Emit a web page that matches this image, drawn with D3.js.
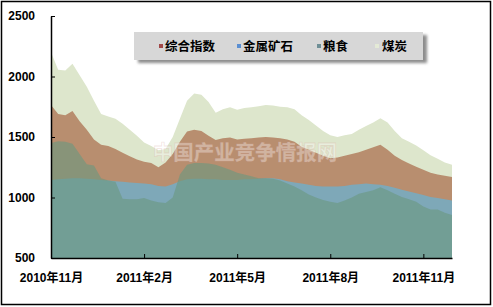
<!DOCTYPE html>
<html>
<head>
<meta charset="utf-8">
<script src="https://cdn.jsdelivr.net/npm/d3@7"></script>
<style>
  body { margin: 0; background: #fff; }
  .axis text { font-family: "Liberation Sans", "Noto Sans CJK SC", sans-serif; font-weight: bold; font-size: 12px; fill: #000; }
  .axis path, .axis line { stroke: #000; }
</style>
</head>
<body>
<div id="chart"></div>
<script>
// weekly index values, 2010-11 .. 2011-12 (57 weeks)
let seriesNames = ['综合指数', '金属矿石', '粮食', '煤炭'];
let tickIndex = [0, 13, 26, 39, 52];
let tickLabels = ['2010年11月', '2011年2月', '2011年5月', '2011年8月', '2011年11月'];
let yTicks = [500, 1000, 1500, 2000, 2500];

let coal = [2200, 2055, 2050, 2105, 2010, 1915, 1800, 1690, 1670, 1650, 1610, 1560, 1510, 1455, 1425,
  1390, 1400, 1500, 1650, 1800, 1860, 1850, 1790, 1700, 1730, 1745, 1725, 1740, 1745, 1755,
  1765, 1760, 1750, 1745, 1730, 1680, 1640, 1595, 1550, 1515, 1500, 1515, 1525, 1560, 1590,
  1620, 1655, 1620, 1550, 1490, 1460, 1430, 1390, 1350, 1320, 1290, 1270];
let composite = [1765, 1690, 1680, 1715, 1630, 1560, 1480, 1435, 1425, 1400, 1370, 1340, 1315, 1295, 1285,
  1250, 1290, 1360, 1460, 1545, 1560, 1550, 1510, 1475, 1490, 1495, 1480, 1485, 1490, 1495,
  1500, 1495, 1490, 1480, 1460, 1420, 1395, 1370, 1345, 1325, 1330, 1345, 1360, 1375, 1395,
  1415, 1435, 1395, 1345, 1310, 1280, 1255, 1230, 1205, 1190, 1180, 1170];
let metal = [1145, 1150, 1155, 1160, 1160, 1155, 1150, 1145, 1140, 1135, 1130, 1125, 1120, 1115, 1110,
  1095, 1090, 1110, 1135, 1150, 1155, 1155, 1150, 1150, 1145, 1145, 1145, 1150, 1150, 1155,
  1160, 1160, 1150, 1135, 1125, 1115, 1105, 1095, 1090, 1090, 1090, 1095, 1105, 1110, 1115,
  1110, 1105, 1095, 1080, 1065, 1050, 1035, 1020, 1005, 995, 985, 975];
let grain = [1450, 1465, 1460, 1445, 1360, 1275, 1265, 1160, 1140, 1130, 990, 985, 985, 995, 975,
  960, 955, 1000, 1190, 1270, 1285, 1285, 1280, 1270, 1250, 1230, 1205, 1190, 1175, 1160,
  1160, 1155, 1140, 1115, 1090, 1060, 1025, 1000, 980, 965, 955, 975, 1000, 1030, 1045,
  1060, 1085, 1060, 1030, 1005, 985, 965, 925, 900, 900, 875, 855];

let width = 493;
let height = 307;
let plotLeft = 51, plotRight = 452, plotTop = 16, plotBottom = 258;

let svg = d3.select('#chart')
  .append('svg')
  .attr('width', width)
  .attr('height', height);

// outer frame
svg.append('rect')
  .attr('x', 1.5).attr('y', 1.5)
  .attr('width', width - 4).attr('height', height - 4)
  .attr('fill', '#fff')
  .attr('stroke', '#000')
  .attr('stroke-width', 1.5);

let xScale = d3.scaleLinear()
  .domain([0, coal.length - 1])
  .range([plotLeft, plotRight]);

let yScale = d3.scaleLinear()
  .domain([500, 2500])
  .range([plotBottom, plotTop]);

function area() {
  return d3.area()
    .x(function(d, i) { return xScale(i); })
    .y0(yScale(500))
    .y1(function(d) { return yScale(d); });
}

// back to front: coal, composite, metal, grain
let layers = [
  {data: coal, fill: '#dde6cc', opacity: 1},
  {data: composite, fill: '#b88e6f', opacity: 1},
  {data: metal, fill: '#7ea8b8', opacity: 1},
  {data: grain, fill: '#6a977f', opacity: 0.62}
];

layers.forEach(function(l) {
  svg.append('path')
    .datum(l.data)
    .attr('d', area())
    .attr('fill', l.fill)
    .attr('fill-opacity', l.opacity);
});

// watermark
svg.append('text')
  .attr('x', 245)
  .attr('y', 160)
  .attr('text-anchor', 'middle')
  .style('font-family', '"Noto Sans CJK SC", sans-serif')
  .style('font-weight', 'bold')
  .style('font-size', '20.5px')
  .attr('fill', 'rgba(255,255,255,0.35)')
  .attr('stroke', 'rgba(215,170,160,0.3)')
  .attr('stroke-width', 0.8)
  .text('中国产业竞争情报网');

let yAxis = d3.axisLeft(yScale)
  .tickValues(yTicks)
  .tickSizeInner(-4)
  .tickSizeOuter(0)
  .tickPadding(16)
  .tickFormat(d3.format('d'));

let xAxis = d3.axisBottom(xScale)
  .tickValues(tickIndex)
  .tickSizeInner(-4)
  .tickSizeOuter(0)
  .tickPadding(15)
  .tickFormat(function(d, i) { return tickLabels[i]; });

svg.append('g')
  .attr('class', 'axis')
  .attr('transform', 'translate(' + plotLeft + ',0)')
  .call(yAxis);

svg.append('g')
  .attr('class', 'axis')
  .attr('transform', 'translate(0,' + plotBottom + ')')
  .call(xAxis);

svg.selectAll('.axis path').attr('stroke-width', 1.5);

// legend box with shadow
let defs = svg.append('defs');
defs.append('filter')
  .attr('id', 'blur')
  .append('feGaussianBlur')
  .attr('stdDeviation', 1.5);

svg.append('rect')
  .attr('x', 138).attr('y', 35)
  .attr('width', 289).attr('height', 28)
  .attr('fill', '#8c8c8c')
  .attr('filter', 'url(#blur)');

svg.append('rect')
  .attr('x', 134).attr('y', 32)
  .attr('width', 289).attr('height', 28)
  .attr('fill', '#d7d7d7');

let legendColors = ['#a24848', '#5b8fd2', '#6f8f96', '#e4ead6'];
let legendX = [159, 237, 317, 375];

let items = svg.selectAll('.legend')
  .data(seriesNames)
  .enter()
  .append('g')
  .attr('class', 'legend')
  .attr('transform', function(d, i) { return 'translate(' + legendX[i] + ',46)'; });

items.append('rect')
  .attr('x', 0).attr('y', -2)
  .attr('width', 4).attr('height', 4)
  .attr('fill', function(d, i) { return legendColors[i]; });

items.append('text')
  .attr('x', function(d, i) { return i == 3 ? 7 : 6; })
  .attr('y', 5)
  .style('font-family', '"Noto Sans CJK SC", sans-serif')
  .style('font-weight', 'bold')
  .style('font-size', '12.5px')
  .attr('fill', '#000')
  .text(function(d) { return d; });
</script>
</body>
</html>
